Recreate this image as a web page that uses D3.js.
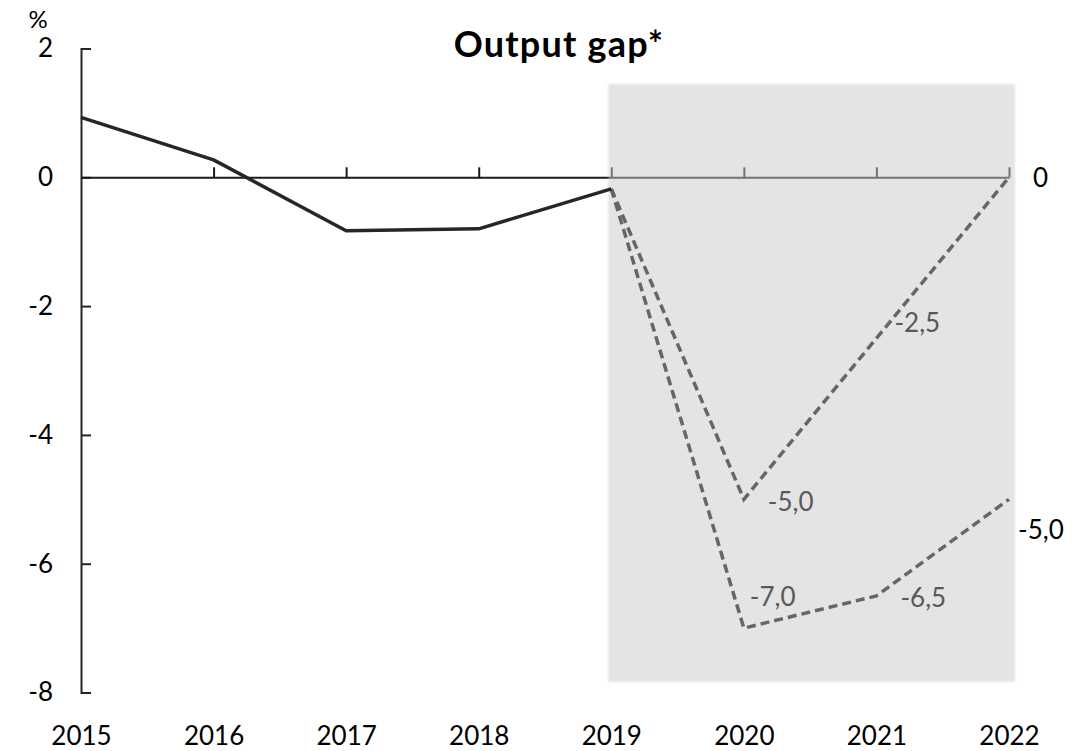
<!DOCTYPE html>
<html>
<head>
<meta charset="utf-8">
<script src="https://cdn.jsdelivr.net/npm/d3@7"></script>
<style>
  body { margin: 0; background: #fff; }
  svg { display: block; font-family: Lato, "Open Sans", sans-serif; }
</style>
</head>
<body>
<svg id="chart" width="1089" height="751"></svg>
<script>
// values
const years = [2015, 2016, 2017, 2018, 2019, 2020, 2021, 2022];
const actualYears = [2015, 2016, 2017, 2018, 2019];
const actualGap = [0.93, 0.27, -0.83, -0.80, -0.18];
const scenarioYears = [2019, 2020, 2021, 2022];
const scenarioA = [-0.18, -5.0, -2.5, 0.0];
const scenarioB = [-0.18, -7.0, -6.5, -5.0];
const yTicks = [2, 0, -2, -4, -6, -8];

let svg = d3.select("#chart");

let x = d3.scaleLinear().domain([2015, 2022]).range([81, 1009]);
let y = d3.scaleLinear().domain([2, -8]).range([48.5, 692.5]);

let fmt = v => v === 0 ? "0" : d3.format(".1f")(v).replace(".", ",").replace("−", "-");

// title and unit
svg.append("text")
    .attr("x", 559).attr("y", 57)
    .attr("text-anchor", "middle")
    .attr("font-size", 36)
    .attr("letter-spacing", 1.2)
    .attr("font-weight", "bold")
    .text("Output gap*");

svg.append("text")
    .attr("x", 38).attr("y", 28)
    .attr("text-anchor", "middle")
    .attr("font-size", 24)
    .text("%");

// y axis, ticks pointing inwards
let yAxis = svg.append("g")
    .attr("transform", `translate(${x(2015)},0)`)
    .call(d3.axisLeft(y).tickValues(yTicks).tickSize(-10).tickSizeOuter(-10).tickPadding(28)
        .tickFormat(d => String(d)));
yAxis.selectAll("path, line").attr("stroke", "#262626").attr("stroke-width", 2);
yAxis.selectAll("text").attr("font-size", 26).attr("font-family", "Lato").attr("fill", "#000");

// zero line with ticks pointing up
let zeroAxis = svg.append("g")
    .attr("transform", `translate(0,${y(0)})`)
    .call(d3.axisBottom(x).tickValues(years).tickSize(-10).tickSizeOuter(0).tickFormat(""));
zeroAxis.selectAll("path, line").attr("stroke", "#1a1a1a").attr("stroke-width", 2);
zeroAxis.selectAll(".tick").filter(d => d === 2015).remove();

// year labels along the bottom
let yearAxis = svg.append("g")
    .attr("transform", `translate(0,${y(-8) + 34})`)
    .call(d3.axisBottom(x).tickValues(years).tickSize(0).tickPadding(0).tickFormat(d => String(d)));
yearAxis.select(".domain").remove();
yearAxis.selectAll("text").attr("font-size", 26).attr("font-family", "Lato").attr("fill", "#000");

// forecast shading, semi-transparent so the zero line goes grey under it
svg.append("defs").append("filter").attr("id", "soft")
    .append("feGaussianBlur").attr("stdDeviation", 1.2);
svg.append("rect")
    .attr("x", x(2019) - 3)
    .attr("y", 84)
    .attr("width", x(2022) - x(2019) + 9)
    .attr("height", 598)
    .attr("fill", "#cbcbcb")
    .attr("opacity", 0.5)
    .attr("filter", "url(#soft)");

let line = d3.line().x(d => x(d[0])).y(d => y(d[1]));

svg.append("path")
    .datum(d3.zip(scenarioYears, scenarioA))
    .attr("d", line)
    .attr("fill", "none")
    .attr("stroke", "#666")
    .attr("stroke-width", 3.5)
    .attr("stroke-dasharray", "9,5");

svg.append("path")
    .datum(d3.zip(scenarioYears, scenarioB))
    .attr("d", line)
    .attr("fill", "none")
    .attr("stroke", "#666")
    .attr("stroke-width", 3.5)
    .attr("stroke-dasharray", "9,5");

svg.append("path")
    .datum(d3.zip(actualYears, actualGap))
    .attr("d", line)
    .attr("fill", "none")
    .attr("stroke", "#262626")
    .attr("stroke-width", 3.5)
    .attr("stroke-linejoin", "round");

// data labels: nudges per point [dx, dy], last point of each series in black
let nudgeA = [null, [24, 12], [18, -6], [24, 10]];
let nudgeB = [null, [6, -22], [24, 11], [9, 40]];

function labelSeries(vals, nudges) {
    vals.forEach((v, i) => {
        if (!nudges[i]) return;
        svg.append("text")
            .attr("x", x(scenarioYears[i]) + nudges[i][0])
            .attr("y", y(v) + nudges[i][1])
            .attr("font-size", 26)
            .attr("fill", i === vals.length - 1 ? "#000" : "#595959")
            .text(fmt(v));
    });
}
labelSeries(scenarioA, nudgeA);
labelSeries(scenarioB, nudgeB);
</script>
</body>
</html>
